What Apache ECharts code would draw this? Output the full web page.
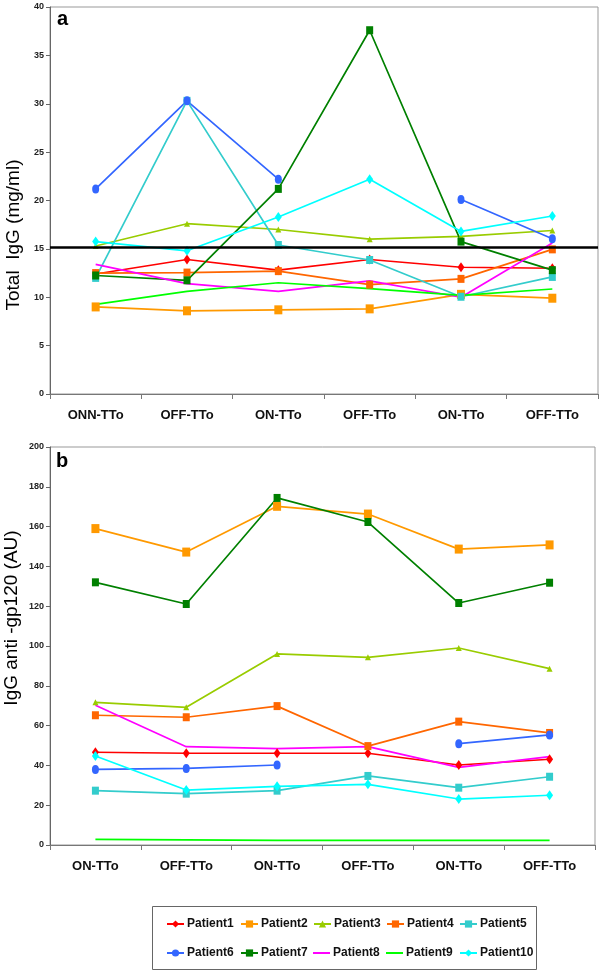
<!DOCTYPE html>
<html>
<head>
<meta charset="utf-8">
<script src="https://cdn.jsdelivr.net/npm/echarts@6/dist/echarts.min.js"></script>
<style>html,body{margin:0;padding:0;background:#fff;}#c{width:600px;height:971px;}</style>
</head>
<body>
<div id="c"></div>
<script>
// ---- data ----
const catsA = ['ONN-TTo', 'OFF-TTo', 'ON-TTo', 'OFF-TTo', 'ON-TTo', 'OFF-TTo'];
const catsB = ['ON-TTo', 'OFF-TTo', 'ON-TTo', 'OFF-TTo', 'ON-TTo', 'OFF-TTo'];
const names = ['Patient1','Patient2','Patient3','Patient4','Patient5','Patient6','Patient7','Patient8','Patient9','Patient10'];
const threshold = 15.2;

// Panel a: Total IgG (mg/ml)
const a_p1  = [12.4, 13.9, 12.8, 13.9, 13.1, 13.0];
const a_p2  = [9.0, 8.6, 8.7, 8.8, 10.3, 9.9];
const a_p3  = [15.3, 17.6, 17.0, 16.0, 16.3, 16.9];
const a_p4  = [12.5, 12.55, 12.7, 11.3, 11.9, 14.95];
const a_p5  = [12.0, 30.3, 15.4, 13.85, 10.05, 12.1];
const a_p6  = [21.2, 30.3, 22.2, null, 20.1, 16.05];
const a_p7  = [12.25, 11.75, 21.2, 37.6, 15.75, 12.8];
const a_p8  = [13.4, 11.4, 10.6, 11.7, 10.0, 15.6];
const a_p9  = [9.27, 10.6, 11.5, 10.9, 10.2, 10.85];
const a_p10 = [15.75, 14.8, 18.3, 22.2, 16.8, 18.4];

// Panel b: IgG anti-gp120 (AU)
const b_p1  = [46.6, 46.1, 46.1, 46.1, 40.2, 43.1];
const b_p2  = [159.0, 147.2, 170.2, 166.3, 148.7, 150.8];
const b_p3  = [71.7, 69.2, 96.0, 94.3, 99.0, 88.6];
const b_p4  = [65.2, 64.2, 69.8, 49.7, 62.0, 56.3];
const b_p5  = [27.3, 25.8, 27.3, 34.7, 28.8, 34.3];
const b_p6  = [38.0, 38.5, 40.2, null, 50.9, 55.3];
const b_p7  = [132.0, 121.1, 174.4, 162.3, 121.6, 131.8];
const b_p8  = [70.2, 49.4, 48.4, 49.4, 39.0, 44.4];
const b_p9  = [2.8, 2.6, 2.3, 2.3, 2.3, 2.3];
const b_p10 = [44.7, 27.6, 29.5, 30.5, 23.1, 25.0];

const dataA = [a_p1,a_p2,a_p3,a_p4,a_p5,a_p6,a_p7,a_p8,a_p9,a_p10];
const dataB = [b_p1,b_p2,b_p3,b_p4,b_p5,b_p6,b_p7,b_p8,b_p9,b_p10];

// ---- styles ----
const colors = ['#FF0000','#FF9900','#99CC00','#FF6600','#33CCCC','#3366FF','#008000','#FF00FF','#00FF00','#00FFFF'];
const symbols = ['diamond','rect','triangle','rect','rect','circle','rect','none','none','diamond'];
const symSizes = [[7,10],[8,9],[6,6],[7,8],[7,8],[7,9],[7,8],4,4,[7,10]];
const FONT = '"Liberation Sans", Arial, sans-serif';

const chart = echarts.init(document.getElementById('c'), null, {renderer:'canvas'});

function xAxisCfg(gi, cats){
  return {
    type:'category', gridIndex:gi, data:cats, boundaryGap:true,
    axisLine:{show:true, lineStyle:{color:'#777', width:1}},
    axisTick:{show:true, length:5, lineStyle:{color:'#777'}},
    axisLabel:{color:'#111', fontFamily:FONT, fontWeight:'bold', fontSize:13, margin:15},
    splitLine:{show:false}
  };
}
function yAxisCfg(gi, max, interval){
  return {
    type:'value', gridIndex:gi, min:0, max:max, interval:interval,
    axisLine:{show:true, lineStyle:{color:'#666', width:1}},
    axisTick:{show:true, length:4, lineStyle:{color:'#666'}},
    axisLabel:{color:'#222', fontFamily:FONT, fontWeight:'bold', fontSize:9, margin:6},
    splitLine:{show:false}
  };
}

const series = [];
names.forEach((n,i)=>{
  series.push({
    name:n, type:'line', xAxisIndex:0, yAxisIndex:0, data:dataA[i],
    symbol:symbols[i], symbolSize:symSizes[i], showSymbol: symbols[i] !== 'none',
    itemStyle:{color:colors[i]}, lineStyle:{color:colors[i], width:1.7},
    animation:false, connectNulls:false,
    markLine: i===0 ? {silent:true, symbol:'none', label:{show:false},
      lineStyle:{color:'#000', width:2.5, type:'solid'}, data:[{yAxis:threshold}]} : undefined
  });
});
names.forEach((n,i)=>{
  series.push({
    name:n, type:'line', xAxisIndex:1, yAxisIndex:1, data:dataB[i],
    symbol:symbols[i], symbolSize:symSizes[i], showSymbol: symbols[i] !== 'none',
    itemStyle:{color:colors[i]}, lineStyle:{color:colors[i], width:1.7},
    animation:false, connectNulls:false
  });
});

// legends: one per item for exact placement
const legLeft = [161, 235, 308, 381, 454];
const legends = names.map((n,i)=>{
  const noSym = symbols[i] === 'none';
  return {
    data:[noSym ? {name:n, icon:'rect'} : n],
    left:legLeft[i%5], top: i<5 ? 912 : 941,
    itemWidth:17, itemHeight: noSym ? 2 : 9, itemGap:0,
    textStyle:{fontFamily:FONT, fontWeight:'bold', fontSize:12, color:'#111', padding:[0,0,0,-2], lineHeight:14},
    selectedMode:false
  };
});

chart.setOption({
  backgroundColor:'#fff',
  animation:false,
  grid:[
    {left:50, right:2, top:7, height:387, show:true, borderColor:'#999', borderWidth:1},
    {left:50, right:5, top:447, height:398, show:true, borderColor:'#999', borderWidth:1}
  ],
  xAxis:[xAxisCfg(0,catsA), xAxisCfg(1,catsB)],
  yAxis:[yAxisCfg(0,40,5), yAxisCfg(1,200,20)],
  legend:legends,
  series:series,
  graphic:[
    {type:'text', left:57, top:9, style:{text:'a', font:'bold 20px '+FONT, fill:'#000'}},
    {type:'text', left:56, top:451, style:{text:'b', font:'bold 20px '+FONT, fill:'#000'}},
    {type:'text', x:14, y:235, rotation:Math.PI/2,
      style:{text:'Total  IgG (mg/ml)', font:'19px '+FONT, fill:'#000', textAlign:'center', textVerticalAlign:'middle'}},
    {type:'text', x:12, y:618, rotation:Math.PI/2,
      style:{text:'IgG anti -gp120 (AU)', font:'19px '+FONT, fill:'#000', textAlign:'center', textVerticalAlign:'middle'}},
    {type:'rect', shape:{x:152.5, y:906.5, width:384, height:63},
      style:{fill:'none', stroke:'#666', lineWidth:1}, z:-1}
  ]
});
</script>
</body>
</html>
